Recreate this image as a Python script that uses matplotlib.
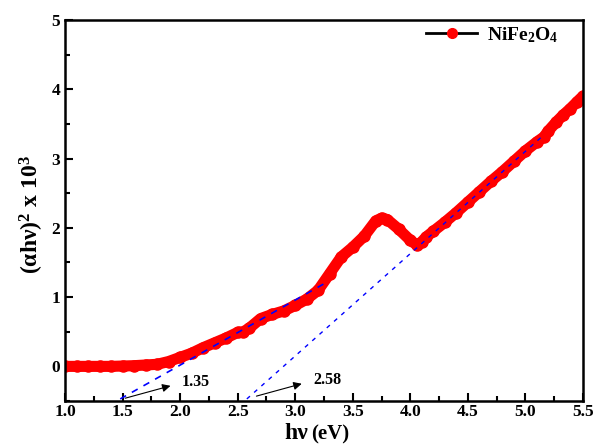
import matplotlib
matplotlib.use('Agg')
from matplotlib import pyplot as plt
from matplotlib.ticker import MultipleLocator

plt.rcParams['font.family'] = ['Liberation Serif', 'DejaVu Serif']
plt.rcParams['font.weight'] = 'bold'
plt.rcParams['mathtext.fontset'] = 'custom'
plt.rcParams['mathtext.rm'] = 'Liberation Serif:bold'
plt.rcParams['mathtext.it'] = 'Liberation Serif:bold'
plt.rcParams['mathtext.bf'] = 'Liberation Serif:bold'

# photon energy (eV) and (alpha h nu)^2 x 10^3
energy = [1.0, 1.1, 1.2, 1.3, 1.4, 1.5, 1.6, 1.7, 1.8, 1.9, 2.0, 2.1, 2.2, 2.3,
          2.4, 2.5, 2.55, 2.6, 2.7, 2.8, 2.9, 3.0, 3.1, 3.2, 3.3, 3.4, 3.5,
          3.6, 3.7, 3.75, 3.8, 3.9, 4.0, 4.06, 4.1, 4.14, 4.2, 4.3, 4.4, 4.5,
          4.6, 4.7, 4.8, 4.9, 5.0, 5.1, 5.16, 5.2, 5.27, 5.33, 5.39, 5.45, 5.5]
absorb = [0.0, 0.0, 0.0, 0.0, 0.0, 0.005, 0.01, 0.02, 0.03, 0.07, 0.13, 0.19,
          0.27, 0.34, 0.41, 0.49, 0.50, 0.55, 0.69, 0.75, 0.80, 0.88, 0.97,
          1.10, 1.34, 1.58, 1.72, 1.88, 2.10, 2.14, 2.12, 1.98, 1.82, 1.75,
          1.80, 1.87, 1.95, 2.08, 2.22, 2.37, 2.52, 2.67, 2.81, 2.96, 3.11,
          3.24, 3.31, 3.40, 3.53, 3.63, 3.72, 3.82, 3.90]

# tangent (Tauc) lines
fit1_x = [1.48, 3.28]
fit1_y = [-0.47, 1.22]
fit2_x = [2.58, 5.16]
fit2_y = [-0.47, 3.34]
gaps = ['1.35', '2.58']

fig = plt.figure(figsize=(5.93, 4.44), dpi=100)
ax = fig.add_axes([0.1096, 0.0968, 0.8734, 0.8582])

ax.plot(energy, absorb, color='red', lw=8, solid_capstyle='round',
        solid_joinstyle='round', zorder=2)
ax.plot(energy, absorb, 'o', color='red', ms=8, zorder=2)
ax.plot([], [], '-o', color='black', mfc='red', mec='red', ms=7, lw=2,
        label=r'NiFe$_2$O$_4$')

ax.plot(fit1_x, fit1_y, '--', color='blue', lw=1.2, dashes=(4, 4), zorder=3)
ax.plot(fit2_x, fit2_y, '--', color='blue', lw=1.0, dashes=(3, 4), zorder=3)

ax.annotate('', xy=(1.94, -0.27), xytext=(1.5, -0.47),
            arrowprops=dict(arrowstyle='-|>', color='black', lw=0.8,
                            mutation_scale=12))
ax.text(2.01, -0.22, gaps[0], fontsize=11.5, fontweight='bold', va='center')
ax.annotate('', xy=(3.08, -0.24), xytext=(2.64, -0.44),
            arrowprops=dict(arrowstyle='-|>', color='black', lw=0.8,
                            mutation_scale=12))
ax.text(3.16, -0.19, gaps[1], fontsize=11.5, fontweight='bold', va='center')

ax.set_xlim(1.0, 5.5)
ax.set_ylim(-0.5, 5)
ax.xaxis.set_major_locator(MultipleLocator(0.5))
ax.xaxis.set_minor_locator(MultipleLocator(0.25))
ax.yaxis.set_major_locator(MultipleLocator(1))
ax.yaxis.set_minor_locator(MultipleLocator(0.5))
ax.set_yticks([0, 1, 2, 3, 4, 5])
ax.tick_params(which='both', direction='in', top=False, right=False,
               labelsize=12.5, width=1.5)
ax.tick_params(which='major', length=6)
ax.tick_params(which='minor', length=3.5)
ax.tick_params(axis='x', pad=2.5)
for lab in ax.get_xticklabels() + ax.get_yticklabels():
    lab.set_fontweight('bold')
for sp in ax.spines.values():
    sp.set_linewidth(1.8)

# x label: big "hν", smaller "(eV)"
fig.text(308 / 593, 0.011, 'hν', fontsize=17, fontweight='bold',
         ha='right', va='baseline')
fig.text(311 / 593, 0.011, '(eV)', fontsize=15, fontweight='bold',
         ha='left', va='baseline')

ax.set_ylabel(r'($\alpha$h$\nu$)$^2$ x 10$^3$', fontsize=17, fontweight='bold')
ax.yaxis.set_label_coords(-0.036, 0.49)

ax.legend(loc='center right', bbox_to_anchor=(0.952, 0.961), frameon=False,
          fontsize=14, handlelength=2.6, handletextpad=0.5, borderpad=0,
          borderaxespad=0)

plt.savefig('out.png', dpi=100)
